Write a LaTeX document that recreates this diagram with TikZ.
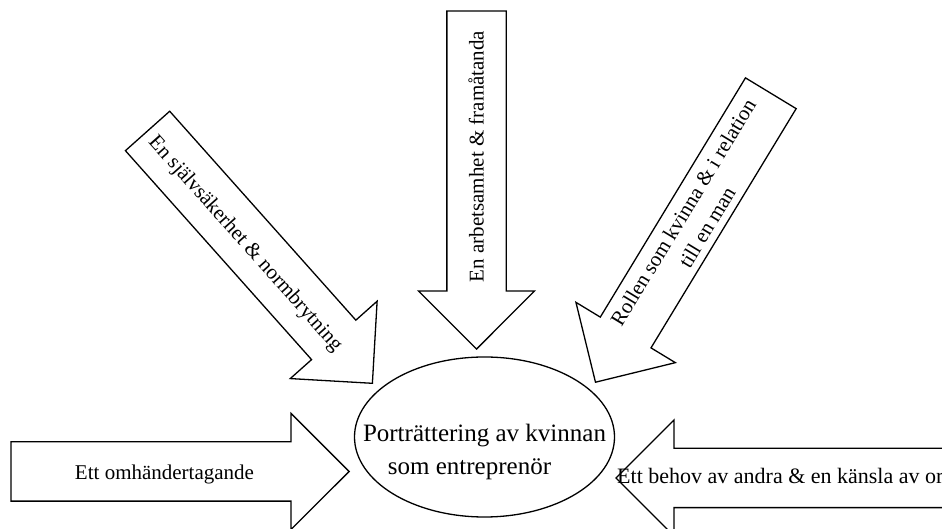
\documentclass[tikz,border=0pt]{standalone}
\usepackage{fontspec}
\setmainfont{Liberation Serif}
\usetikzlibrary{shapes.arrows, shapes.geometric}

\begin{document}
\begin{tikzpicture}[x=1pt, y=1pt,
  blockarrow/.style={draw, line width=1.3pt, single arrow, single arrow head extend=28.5pt, minimum height=338pt, inner xsep=0pt, inner ysep=29pt, anchor=tip},
  arrowtext/.style={inner sep=0pt, font=\fontsize{21}{28}\selectfont}]
\useasboundingbox (0,0) rectangle (942,529);
\fill[white] (0,0) rectangle (942,529);
\clip (0,0) rectangle (942,529);
\node[draw, line width=1.3pt, ellipse, minimum width=260pt, minimum height=160pt](portr) at (484.5,92){};
\node[font=\fontsize{25}{33}\selectfont, align=center](portrtext) at ([yshift=-15pt]portr.center){Porträttering av kvinnan\\som entreprenör\hspace{30pt}\mbox{}};
\node[blockarrow, rotate=-48.3](sjalv) at (373,145){};
\node[blockarrow, rotate=-90](arbete) at (476.5,179){};
\node[blockarrow, rotate=-121.25](roll) at (595,146){};
\node[blockarrow, rotate=0](omh) at (350,57.5){};
\node[blockarrow, rotate=180](behov) at (615,51){};
\node[arrowtext, rotate=-48.3](sjalvtext) at (245,285){En självsäkerhet \& normbrytning};
\node[arrowtext, rotate=90](arbetetext) at (476,372.5){En arbetsamhet \& framåtanda};
\node[arrowtext, rotate=58.75, align=center](rolltext) at (695,309){Rollen som kvinna \& i relation\\till en man};
\node[arrowtext](omhtext) at (164.5,55){Ett omhändertagande};
\node[arrowtext, font=\fontsize{22}{28}\selectfont, anchor=west](behovtext) at (617,51){Ett behov av andra \& en känsla av ordning};
\end{tikzpicture}
\end{document}
